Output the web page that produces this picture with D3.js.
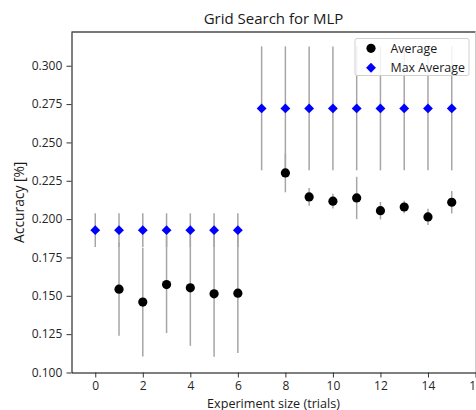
<!DOCTYPE html>
<html>
<head>
<meta charset="utf-8">
<script src="https://cdn.jsdelivr.net/npm/d3@7"></script>
<style>
  html, body { margin: 0; padding: 0; background: #fff; }
  svg { display: block; font-family: "Open Sans", "Noto Sans", sans-serif; }
</style>
</head>
<body>
<svg id="chart" width="476" height="410"></svg>
<script>
// ---- data ----
const trials = [0, 1, 2, 3, 4, 5, 6, 7, 8, 9, 10, 11, 12, 13, 14, 15];
// average is hidden under the max marker at trials 0 and 7
const averageValues = [null, 0.1543, 0.1459, 0.1573, 0.1552, 0.1513, 0.1517, null,
                       0.2301, 0.2145, 0.2117, 0.2138, 0.2055, 0.2079, 0.2014, 0.2110];
const averageErrors = [null, 0.0304, 0.0355, 0.0316, 0.0378, 0.0410, 0.0390, null,
                       0.0126, 0.0058, 0.0048, 0.0138, 0.0057, 0.0040, 0.0053, 0.0073];
const maxAverageValues = [0.1928, 0.1928, 0.1928, 0.1928, 0.1928, 0.1928, 0.1928, 0.2722,
                          0.2722, 0.2722, 0.2722, 0.2722, 0.2722, 0.2722, 0.2722, 0.2722];
const maxAverageErrors = [0.0110, 0.0110, 0.0110, 0.0110, 0.0110, 0.0110, 0.0110, 0.0404,
                          0.0404, 0.0404, 0.0404, 0.0404, 0.0404, 0.0404, 0.0404, 0.0404];
const xTicks = [0, 2, 4, 6, 8, 10, 12, 14, 16];
const yTicks = [0.100, 0.125, 0.150, 0.175, 0.200, 0.225, 0.250, 0.275, 0.300];
const seriesNames = ["Average", "Max Average"];
const titleText = "Grid Search for MLP";
const xLabel = "Experiment size (trials)";
const yLabel = "Accuracy [%]";

// ---- layout ----
const FONT = "'Open Sans', 'Noto Sans', sans-serif";
const L = 71.5, R = 475.5, T = 32, B = 372.5;
const svg = d3.select("#chart");
const x = d3.scaleLinear().domain([-1, 16]).range([L, R]);
const y = d3.scaleLinear().domain([0.1, 0.322]).range([B, T]);

const avg = trials.map((t, i) => ({ x: t, v: averageValues[i], e: averageErrors[i] }))
  .filter(d => d.v !== null);
const mx = trials.map((t, i) => ({ x: t, v: maxAverageValues[i], e: maxAverageErrors[i] }));

// frame: top and right spines
svg.append("line").attr("x1", L).attr("x2", R).attr("y1", T).attr("y2", T)
  .attr("stroke", "#777").attr("stroke-width", 2);
svg.append("line").attr("x1", R).attr("x2", R).attr("y1", T).attr("y2", B)
  .attr("stroke", "#ccc").attr("stroke-width", 1);

const plot = svg.append("g");

// error bars
const errColor = "#a6a6a6";
plot.selectAll(".eavg").data(avg).join("line")
  .attr("x1", d => x(d.x)).attr("x2", d => x(d.x))
  .attr("y1", d => y(d.v - d.e)).attr("y2", d => y(d.v + d.e))
  .attr("stroke", errColor).attr("stroke-width", 1.5);
plot.selectAll(".emax").data(mx).join("line")
  .attr("x1", d => x(d.x)).attr("x2", d => x(d.x))
  .attr("y1", d => y(d.v - d.e)).attr("y2", d => y(d.v + d.e))
  .attr("stroke", errColor).attr("stroke-width", 1.5);

// markers
plot.selectAll("circle.avg").data(avg).join("circle")
  .attr("class", "avg")
  .attr("cx", d => x(d.x)).attr("cy", d => y(d.v)).attr("r", 4.6)
  .attr("fill", "#000");
const diamond = d3.symbol().type(d3.symbolDiamond2).size(62);
plot.selectAll("path.mx").data(mx).join("path")
  .attr("class", "mx")
  .attr("d", diamond)
  .attr("transform", d => `translate(${x(d.x)},${y(d.v)})`)
  .attr("fill", "#0000ff");

// axes
const xAxis = svg.append("g").attr("transform", `translate(0,${B})`)
  .call(d3.axisBottom(x).tickValues(xTicks).tickFormat(d3.format("d")).tickSize(5).tickPadding(3.5).tickSizeOuter(0));
const yAxis = svg.append("g").attr("transform", `translate(${L},0)`)
  .call(d3.axisLeft(y).tickValues(yTicks).tickFormat(d3.format(".3f")).tickSize(5).tickPadding(4.2).tickSizeOuter(0));
[xAxis, yAxis].forEach(a => {
  a.selectAll("text").attr("font-family", FONT).attr("font-size", 12).attr("fill", "#262626");
  a.select(".domain").attr("stroke", "#000");
  a.selectAll(".tick line").attr("stroke", "#333");
});

// title and labels
svg.append("text").attr("x", (L + R) / 2).attr("y", 24.3).attr("text-anchor", "middle")
  .attr("font-family", FONT).attr("font-size", 15).attr("fill", "#1a1a1a").text(titleText);
svg.append("text").attr("x", (L + R) / 2).attr("y", 407.5).attr("text-anchor", "middle")
  .attr("font-family", FONT).attr("font-size", 12.6).attr("fill", "#1a1a1a").text(xLabel);
svg.append("text").attr("transform", `translate(24,${(T + B) / 2}) rotate(-90)`)
  .attr("text-anchor", "middle").attr("font-family", FONT).attr("font-size", 13.8)
  .attr("fill", "#1a1a1a").text(yLabel);

// legend
const lg = svg.append("g");
lg.append("rect").attr("x", 355).attr("y", 38.5).attr("width", 114).attr("height", 37)
  .attr("rx", 2).attr("fill", "#fff").attr("fill-opacity", 0.85)
  .attr("stroke", "#d0d0d0").attr("stroke-width", 1);
const rows = [48.3, 67.7];
lg.append("circle").attr("cx", 371).attr("cy", rows[0]).attr("r", 4.6).attr("fill", "#000");
lg.append("path").attr("d", diamond)
  .attr("transform", `translate(371,${rows[1]})`).attr("fill", "#0000ff");
seriesNames.forEach((n, i) => {
  lg.append("text").attr("x", 390.5).attr("y", rows[i] + 4.3)
    .attr("font-family", FONT).attr("font-size", 12.4).attr("fill", "#1a1a1a").text(n);
});
</script>
</body>
</html>
